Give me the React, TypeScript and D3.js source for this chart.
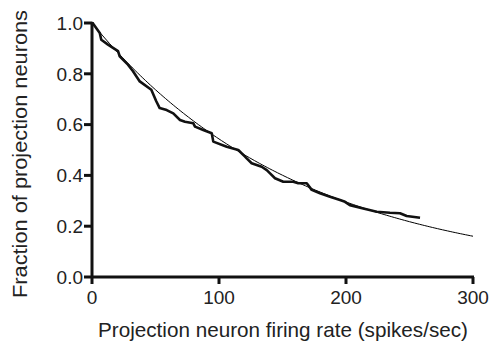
import React from "react";
import * as d3 from "d3";

const empX = [0, 0.5, 6.1, 7.3, 12.6, 20.5, 21.8, 28.3, 32.3, 37.6, 46.7, 50.6, 53.3, 58.8, 64.0, 69.3, 73.2, 79.8, 81.1, 87.6, 94.3, 95.5, 106.1, 115.2, 120.5, 121.8, 125.7, 133.6, 137.6, 140.2, 144.1, 150.6, 158.5, 162.4, 169.1, 173.0, 179.5, 187.4, 195.3, 199.2, 203.1, 213.6, 224.2, 234.6, 242.5, 247.8, 258.3];
const empY = [1.0, 1.0, 0.961, 0.934, 0.915, 0.889, 0.869, 0.836, 0.81, 0.77, 0.737, 0.692, 0.665, 0.657, 0.644, 0.618, 0.611, 0.605, 0.592, 0.579, 0.566, 0.533, 0.513, 0.5, 0.474, 0.467, 0.448, 0.434, 0.421, 0.408, 0.389, 0.375, 0.375, 0.369, 0.369, 0.343, 0.33, 0.316, 0.303, 0.296, 0.283, 0.27, 0.257, 0.253, 0.251, 0.24, 0.233];
const fitTau = 164;
const xTicks = [0, 100, 200, 300];
const yTicks = [0.0, 0.2, 0.4, 0.6, 0.8, 1.0];
const xTitle = "Projection neuron firing rate (spikes/sec)";
const yTitle = "Fraction of projection neurons";

export default function App() {
  const W = 489, H = 345;
  const x = d3.scaleLinear().domain([0, 300]).range([92, 473]);
  const y = d3.scaleLinear().domain([0, 1]).range([277, 23]);
  const emp = empX.map((v, i) => [v, empY[i]] as [number, number]);
  const fitPts = d3.range(0, 301, 2).map((v) => [v, Math.exp(-v / fitTau)] as [number, number]);
  const line = d3.line<[number, number]>().x((d) => x(d[0])).y((d) => y(d[1]));
  const font = "Arial, 'Liberation Sans', sans-serif";
  return (
    <svg width={W} height={H} style={{ position: "absolute", left: 0, top: 0 }} fontFamily={font}>
      <rect width={W} height={H} fill="#fff" />
      <path d={line(fitPts) || ""} fill="none" stroke="#000" strokeWidth={1} />
      <path d={line(emp) || ""} fill="none" stroke="#111" strokeWidth={2.6} strokeLinejoin="round" />
      <line x1={x(0)} x2={x(0)} y1={y(1) - 1} y2={y(0)} stroke="#111" strokeWidth={3} />
      <line x1={x(0)} x2={x(300) + 1} y1={y(0)} y2={y(0)} stroke="#111" strokeWidth={3} />
      {yTicks.map((t) => (
        <g key={"y" + t}>
          <line x1={x(0) - 8} x2={x(0)} y1={y(t)} y2={y(t)} stroke="#111" strokeWidth={3} />
          <text x={x(0) - 9} y={y(t)} dy="0.36em" textAnchor="end" fontSize={19} fill="#222">
            {t.toFixed(1)}
          </text>
        </g>
      ))}
      {xTicks.map((t) => (
        <g key={"x" + t}>
          <line x1={x(t)} x2={x(t)} y1={y(0)} y2={y(0) + 7} stroke="#111" strokeWidth={3} />
          <text x={x(t)} y={303.5} textAnchor="middle" fontSize={19} fill="#222">
            {t}
          </text>
        </g>
      ))}
      <text x={283} y={336.5} textAnchor="middle" fontSize={21} fill="#222" textLength={370} lengthAdjust="spacingAndGlyphs">
        {xTitle}
      </text>
      <text transform={`translate(27,154) rotate(-90)`} textAnchor="middle" fontSize={21} fill="#222" textLength={288} lengthAdjust="spacingAndGlyphs">
        {yTitle}
      </text>
    </svg>
  );
}
